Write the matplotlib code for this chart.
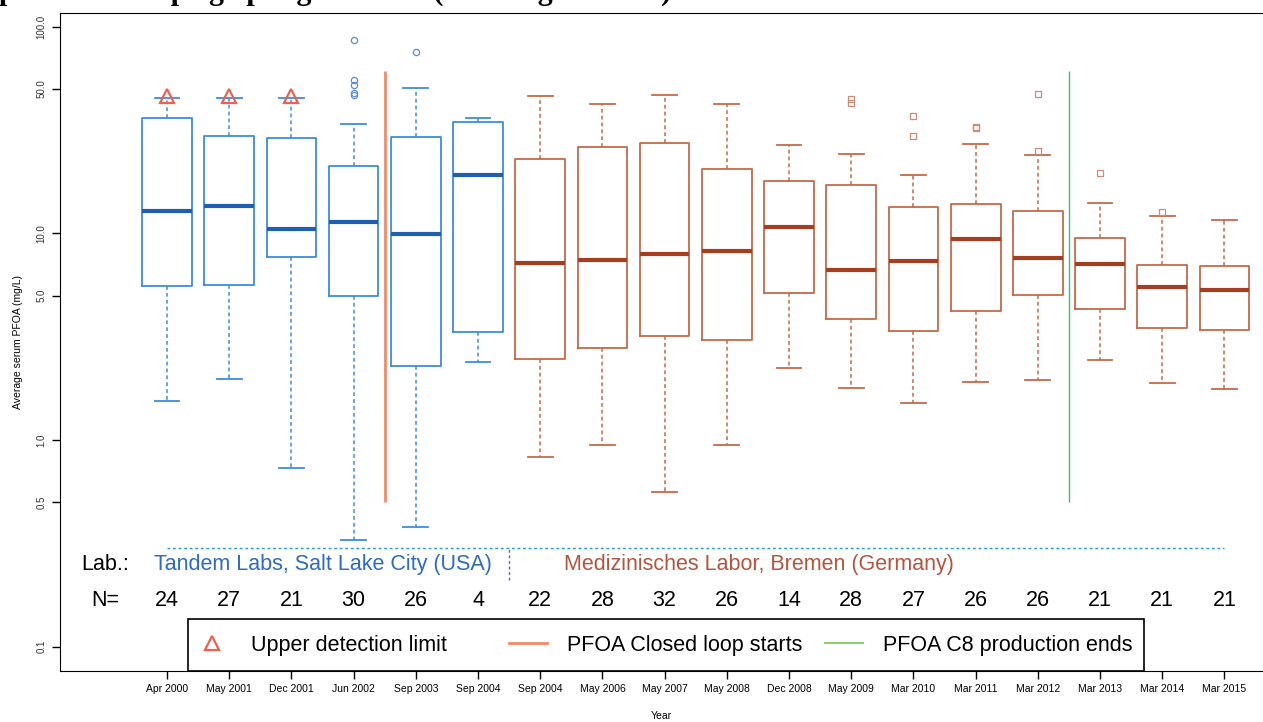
import numpy as np
import matplotlib
matplotlib.use("Agg")
from matplotlib import pyplot as plt
from matplotlib.lines import Line2D
from matplotlib.patches import Rectangle
from matplotlib.legend import Legend

plt.rcParams['font.family'] = ['Liberation Sans', 'DejaVu Sans']

# data
dates = ["Apr 2000", "May 2001", "Dec 2001", "Jun 2002", "Sep 2003", "Sep 2004",
         "Sep 2004", "May 2006", "May 2007", "May 2008", "Dec 2008", "May 2009",
         "Mar 2010", "Mar 2011", "Mar 2012", "Mar 2013", "Mar 2014", "Mar 2015"]
n_values = [24, 27, 21, 30, 26, 4, 22, 28, 32, 26, 14, 28, 27, 26, 26, 21, 21, 21]
whislo = [1.54, 1.97, 0.73, 0.33, 0.38, 2.39, 0.83, 0.95, 0.56, 0.95, 2.24, 1.79,
          1.51, 1.91, 1.96, 2.44, 1.88, 1.76]
q1 = [5.58, 5.62, 7.65, 4.95, 2.28, 3.32, 2.46, 2.80, 3.18, 3.05, 5.13, 3.85,
      3.38, 4.22, 5.05, 4.32, 3.47, 3.39]
med = [12.9, 13.6, 10.5, 11.4, 9.9, 19.1, 7.21, 7.45, 7.91, 8.21, 10.7, 6.65,
       7.34, 9.35, 7.60, 7.10, 5.52, 5.33]
q3 = [36.0, 29.6, 28.9, 21.3, 29.3, 34.7, 22.9, 26.1, 27.3, 20.4, 17.9, 17.1,
      13.4, 13.8, 12.9, 9.52, 7.00, 6.97]
whishi = [45.3, 45.3, 45.3, 33.9, 50.3, 36.0, 46.2, 42.3, 46.9, 42.1, 26.7, 24.3,
          19.2, 27.1, 23.9, 14.1, 12.1, 11.6]
fliers = [[], [], [], [86.5, 55.0, 52.0, 48.0, 46.5], [75.2], [],
          [], [], [], [], [], [44.5, 42.6],
          [36.8, 29.6], [32.8, 32.2], [47.2, 25.0], [19.6], [12.7], []]
upper_limit = [46.0, 46.0, 46.0]   # triangles, first three campaigns
n_tandem = 6

closed_loop_x = 4.5
c8_end_x = 15.5

blue = '#3b8ede'
blue_med = '#1f5fae'
brown = '#c46a48'
brown_med = '#a53d20'

fig = plt.figure(figsize=(12.63, 7.22), dpi=100)
ax = fig.add_axes([60/1263, 51/722, 1 - 60/1263, (671 - 12.7)/722])
ax.set_yscale('log')

pos = np.arange(1, len(dates) + 1)
stats = [dict(med=med[i], q1=q1[i], q3=q3[i], whislo=whislo[i], whishi=whishi[i],
              fliers=fliers[i], label=dates[i]) for i in range(len(dates))]

def draw(sl, col, mcol, fmark, fcol):
    ax.bxp(stats[sl], positions=pos[sl], widths=0.8, capwidths=0.4,
           manage_ticks=False,
           boxprops=dict(color=col, lw=1.3),
           medianprops=dict(color=mcol, lw=3),
           whiskerprops=dict(color=col, lw=1.1, linestyle=(0, (2.5, 2))),
           capprops=dict(color=col, lw=1.3),
           flierprops=dict(marker=fmark, markerfacecolor='none',
                           markeredgecolor=fcol, markersize=4.5, mew=0.9))

draw(slice(0, n_tandem), blue, blue_med, 'o', '#5b8fd6')
draw(slice(n_tandem, None), brown, brown_med, 's', '#cf8a78')

ax.plot(pos[:3], upper_limit, ls='none', marker='^', mfc='none', mec='#f0604d',
        ms=10, mew=1.6)

ax.vlines(closed_loop_x, 0.5, 61, color='#f28a66', lw=2)
ax.vlines(c8_end_x, 0.5, 61, color='#2ec27e', lw=1)

# lab annotations
ax.hlines(0.3, 1, 18, color='#2196f3', lw=1, linestyles=(0, (2, 2)))
ax.vlines(6.5, 0.21, 0.3, color='#5b5fd0', lw=1, linestyles=(0, (2, 2)))
ax.text(0, 0.251, "Lab.:", ha='center', va='center', fontsize=15.5)
ax.text(3.5, 0.251, "Tandem Labs, Salt Lake City (USA)", ha='center', va='center',
        fontsize=15.5, color='#2d6bc4')
ax.text(10.52, 0.251, "Medizinisches Labor, Bremen (Germany)", ha='center',
        va='center', fontsize=15.5, color='#b4553f')
ax.text(0, 0.168, "N=", ha='center', va='center', fontsize=15.5)
for p, n in zip(pos, n_values):
    ax.text(p, 0.168, str(n), ha='center', va='center', fontsize=15.5)

ax.set_xlim(-0.72, 18.62)
ax.set_ylim(0.0763, 116.9)
ax.set_xticks(pos)
ax.set_xticklabels(dates, fontsize=7.5)
yt = [0.1, 0.5, 1.0, 5.0, 10.0, 50.0, 100.0]
ax.set_yticks(yt)
ax.set_yticklabels(["%.1f" % v for v in yt], rotation=90, va='center',
                   fontsize=7, color='#333333')
ax.minorticks_off()
ax.tick_params(length=6, width=1)
ax.spines['right'].set_visible(False)
ax.set_xlabel("Year", fontsize=7.5, labelpad=12)
ax.set_ylabel("Average serum PFOA (mg/L)", fontsize=7.5, labelpad=10)

# legend: one entry per legend so the gaps match, with a box drawn round them
lx0, lx1, ly1 = (188 - 60)/1203, (1144 - 60)/1203, (671 - 619)/658.3
ax.add_patch(Rectangle((lx0, 0), lx1 - lx0, ly1, transform=ax.transAxes,
                       fill=False, ec='black', lw=1.2, zorder=5, clip_on=False))
handles = [Line2D([], [], ls='none', marker='^', mfc='none', mec='#f0604d', ms=10, mew=1.6),
           Line2D([], [], color='#f28a66', lw=2),
           Line2D([], [], color='#8fd06a', lw=1.5)]
leg_labels = ["Upper detection limit", "PFOA Closed loop starts", "PFOA C8 production ends"]
leg_px = [193, 509, 825]
for h, lab, px in zip(handles, leg_labels, leg_px):
    lg = Legend(ax, [h], [lab], loc='center left',
                bbox_to_anchor=((px - 60)/1203, ly1/2), bbox_transform=ax.transAxes,
                borderaxespad=0, borderpad=0, fontsize=15.5, frameon=False,
                handlelength=1.77, handletextpad=0.93)
    ax.add_artist(lg)

fig.text(-0.001, 1.0, "periodo di impiego per gli addetti (scala logaritmica).",
         family='Liberation Serif', weight='bold', fontsize=21.6, va='baseline')

fig.savefig("out.png", dpi=100)
